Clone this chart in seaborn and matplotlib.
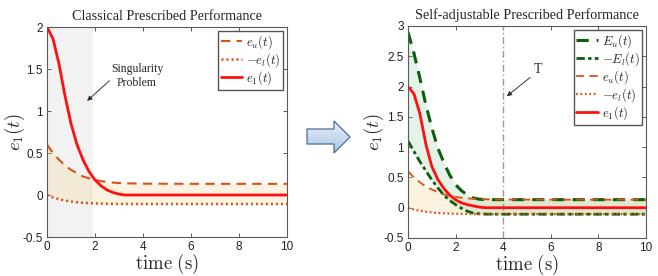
import numpy as np
import matplotlib
matplotlib.use('Agg')
import matplotlib.pyplot as plt
from matplotlib.patches import Polygon
import seaborn as sns

# ─── DATA ─────────────────────────────────────────────────────────────────────

t = [0, 0.25, 0.5, 0.75, 1.0, 1.25, 1.5, 1.75, 2.0, 2.25, 2.5, 2.75, 3.0, 3.25, 3.5, 4.0, 6.0, 8.0, 10.0]

# classical panel
e1_left = [2.0, 1.86, 1.56, 1.18, 0.85, 0.60, 0.42, 0.28, 0.18, 0.11, 0.06, 0.03, 0.01, 0.0, 0.0, 0.0, 0.0, 0.0, 0.0]
e_u = [0.60, 0.50, 0.42, 0.35, 0.30, 0.26, 0.22, 0.20, 0.18, 0.165, 0.155, 0.148, 0.143, 0.14, 0.138, 0.135, 0.133, 0.133, 0.133]
neg_e_l = [0.0, -0.03, -0.05, -0.066, -0.078, -0.087, -0.093, -0.097, -0.10, -0.102, -0.104, -0.105, -0.106, -0.106, -0.107, -0.107, -0.107, -0.107, -0.107]

# self-adjustable panel
E_u = [2.90, 2.55, 2.14, 1.70, 1.32, 0.99, 0.75, 0.54, 0.38, 0.28, 0.21, 0.16, 0.14, 0.135, 0.133, 0.133, 0.133, 0.133, 0.133]
neg_E_l = [1.10, 0.93, 0.76, 0.61, 0.46, 0.33, 0.21, 0.12, 0.05, -0.01, -0.06, -0.09, -0.10, -0.105, -0.107, -0.107, -0.107, -0.107, -0.107]
e1_right = [2.0, 1.88, 1.55, 1.05, 0.68, 0.47, 0.32, 0.21, 0.13, 0.08, 0.05, 0.03, 0.01, 0.0, 0.0, 0.0, 0.0, 0.0, 0.0]

sing_end = 1.9   # end of the singularity region (s)
T_mark = 4.0     # switching time T

x_ticks = [0, 2, 4, 6, 8, 10]
y_ticks_left = [-0.5, 0, 0.5, 1, 1.5, 2]
y_ticks_right = [-0.5, 0, 0.5, 1, 1.5, 2, 2.5, 3]

# ─── STYLE ────────────────────────────────────────────────────────────────────

sns.set_theme(style='white')
plt.rcParams['font.family'] = ['Liberation Sans', 'DejaVu Sans']
plt.rcParams['mathtext.fontset'] = 'cm'
plt.rcParams['axes.edgecolor'] = '#5a5a5a'
plt.rcParams['axes.linewidth'] = 0.8

ORANGE = '#D95319'
RED = '#FF1010'
GREEN = '#0B5E0B'
SERIF = ['Liberation Serif', 'DejaVu Serif']

fig = plt.figure(figsize=(6.58, 2.76), dpi=100)
W, H = 658, 276
ax1 = fig.add_axes([47 / W, 1 - 237 / H, 240 / W, 210 / H])
ax2 = fig.add_axes([408 / W, 1 - 238 / H, 238 / W, 212 / H])


def style_axes(ax, yticks, ylim, ylab_x):
    ax.set_xlim(0, 10)
    ax.set_ylim(*ylim)
    ax.set_xticks(x_ticks)
    ax.set_xticklabels([str(v) for v in x_ticks])
    ax.set_yticks(yticks)
    ax.set_yticklabels([('%g' % v) for v in yticks])
    ax.tick_params(direction='in', length=3, width=0.7, labelsize=8.5, colors='#5a5a5a',
                   labelcolor='#222222', top=True, right=True, bottom=True, left=True, pad=3)
    ax.set_xlabel(r'$\mathrm{time\ (s)}$', fontsize=13.5, labelpad=-1)
    ax.set_ylabel(r'$e_1(t)$', fontsize=13.5)
    ax.yaxis.set_label_coords(ylab_x, 0.5)
    for s in ax.spines.values():
        s.set_visible(True)


def legend(ax):
    ax.legend(loc='upper right', fontsize=9.2, handlelength=1.7, handletextpad=0.3,
              borderpad=0.2, labelspacing=0.02, borderaxespad=0.3, fancybox=False,
              framealpha=1, edgecolor='#555555')


# ─── LEFT: classical ──────────────────────────────────────────────────────────

ax1.axvspan(0, sing_end, color='#f2f2f2', lw=0, zorder=0)
ax1.fill_between(t, neg_e_l, e_u, color='#f5d9a0', alpha=0.32, lw=0, zorder=1)
sns.lineplot(x=t, y=e_u, ax=ax1, color=ORANGE, lw=1.5, linestyle=(0, (4.5, 3)),
             label=r'$e_u(t)$', estimator=None, sort=False)
sns.lineplot(x=t, y=neg_e_l, ax=ax1, color=ORANGE, lw=1.8, linestyle=(0, (0.8, 1.2)),
             label=r'$-e_l(t)$', estimator=None, sort=False)
sns.lineplot(x=t, y=e1_left, ax=ax1, color=RED, lw=2,
             label=r'$e_1(t)$', estimator=None, sort=False)
style_axes(ax1, y_ticks_left, (-0.5, 2), -0.083)
ax1.set_title('Classical Prescribed Performance', fontsize=10.2, family=SERIF, pad=5)
ax1.text(3.75, 1.42, 'Singularity\nProblem', ha='center', va='center', fontsize=8.5,
         family=SERIF, linespacing=1.25)
ax1.annotate('', xy=(1.67, 1.12), xytext=(2.6, 1.36),
             arrowprops=dict(arrowstyle='-|>', color='#333333', lw=0.7, mutation_scale=7,
                             shrinkA=0, shrinkB=0))
legend(ax1)

# ─── RIGHT: self-adjustable ───────────────────────────────────────────────────

ax2.fill_between(t, neg_e_l, e_u, color='#f5d9a0', alpha=0.32, lw=0, zorder=1)
ax2.fill_between(t, neg_E_l, E_u, color='#8cc49a', alpha=0.22, lw=0, zorder=1)
ax2.axvline(T_mark, color='#9a9a9a', lw=1.0, linestyle=(0, (5, 2, 1, 2)), zorder=1)
sns.lineplot(x=t, y=E_u, ax=ax2, color=GREEN, lw=2.2, linestyle=(0, (4, 2.6)),
             label=r'$E_u(t)$', estimator=None, sort=False)
sns.lineplot(x=t, y=neg_E_l, ax=ax2, color=GREEN, lw=2.0, linestyle=(0, (3, 1.2, 1.2, 1.2)),
             label=r'$-E_l(t)$', estimator=None, sort=False)
sns.lineplot(x=t, y=e_u, ax=ax2, color=ORANGE, lw=1.3, linestyle=(0, (4.5, 3)),
             label=r'$e_u(t)$', estimator=None, sort=False)
sns.lineplot(x=t, y=neg_e_l, ax=ax2, color=ORANGE, lw=1.6, linestyle=(0, (0.8, 1.2)),
             label=r'$-e_l(t)$', estimator=None, sort=False)
sns.lineplot(x=t, y=e1_right, ax=ax2, color=RED, lw=2,
             label=r'$e_1(t)$', estimator=None, sort=False)
style_axes(ax2, y_ticks_right, (-0.5, 3), -0.092)
ax2.set_title('Self-adjustable Prescribed Performance', fontsize=10.2, family=SERIF, pad=5)
ax2.text(5.45, 2.28, 'T', ha='center', va='center', fontsize=10, family=SERIF)
ax2.annotate('', xy=(4.15, 1.84), xytext=(5.13, 2.15),
             arrowprops=dict(arrowstyle='-|>', color='#333333', lw=0.7, mutation_scale=7,
                             shrinkA=0, shrinkB=0))
legend(ax2)

# ─── ARROW BETWEEN PANELS ─────────────────────────────────────────────────────

arrow_px = [(307, 129), (334, 129), (334, 121), (350, 137), (334, 153), (334, 144), (307, 144)]
arrow_fig = [(x / W, 1 - y / H) for x, y in arrow_px]

# light gradient inside the arrow
gax = fig.add_axes([307 / W, 1 - 153 / H, 43 / W, 32 / H])
gax.set_axis_off()
grad = np.linspace(0, 1, 50).reshape(-1, 1)
img = gax.imshow(grad, cmap=matplotlib.colors.LinearSegmentedColormap.from_list(
    'g', ['#a9c4e4', '#e9f1fb']), aspect='auto', extent=[0, 1, 0, 1], origin='lower')
clip = Polygon(arrow_fig, closed=True, transform=fig.transFigure,
               facecolor='none', edgecolor='none')
gax.add_patch(clip)
img.set_clip_path(clip)
outline = Polygon(arrow_fig, closed=True, transform=fig.transFigure,
                  facecolor='none', edgecolor='#4f6d96', lw=0.9, zorder=4)
fig.add_artist(outline)

fig.savefig('out.png', dpi=100)
